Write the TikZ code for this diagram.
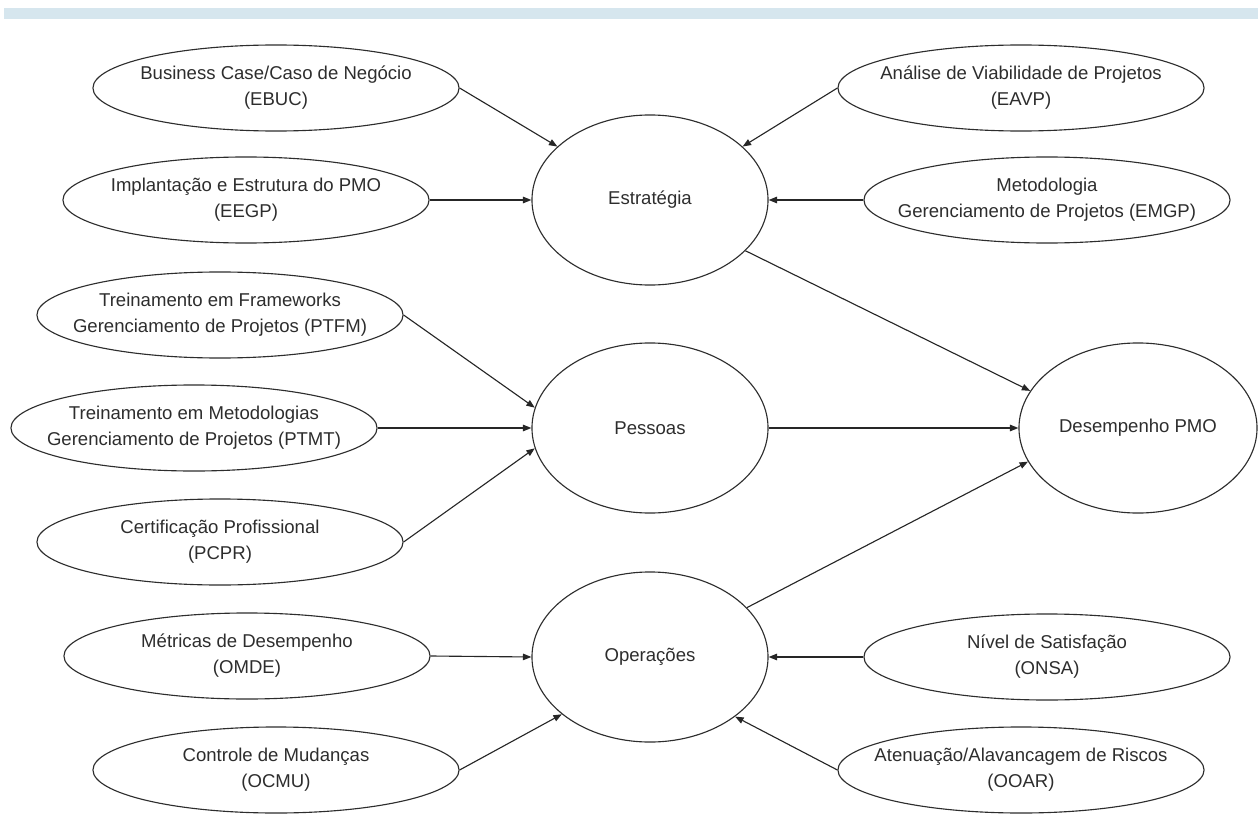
\documentclass[tikz,border=0pt]{standalone}
\usepackage{fontspec}
\setmainfont{Liberation Sans}
\usetikzlibrary{shapes.geometric,arrows.meta,positioning}
\definecolor{bandblue}{RGB}{214,230,238}
\definecolor{inkgrey}{RGB}{45,45,45}

\begin{document}
\begin{tikzpicture}[
    x=0.025cm, y=-0.025cm,
    oval/.style={ellipse, draw=inkgrey, line width=0.8pt, inner sep=0pt,
                 minimum width=9.15cm, minimum height=2.15cm},
    hub/.style={ellipse, draw=inkgrey, line width=0.8pt, inner sep=0pt,
                minimum width=5.9cm, minimum height=4.25cm,
                font=\fontsize{13.2}{16}\selectfont, text=inkgrey},
    txt/.style={align=center, inner sep=0pt, text=inkgrey,
                font=\fontsize{13.2}{18.5}\selectfont},
    arrow/.style={-{Triangle[length=6pt,width=4.6pt]}, line width=0.8pt, black!85}
]
\useasboundingbox (0,0) rectangle (1258,821);
\fill[bandblue] (4,8) rectangle (1258,19);

% central constructs
\node[hub] (estr) at (650,200) {Estratégia};
\node[hub] (pess) at (650,428) {Pessoas};
\node[hub] (oper) at (650,657) {Operações};
\node[hub, minimum width=5.95cm] (desemp) at (1138,428) {Desempenho PMO};

% Estrategia indicators
\node[oval] (ebuc) at (276,88) {};
\node[txt] (ebuc-t) at (ebuc) {Business Case/Caso de Negócio\\(EBUC)};
\node[oval] (eegp) at (246,200) {};
\node[txt] (eegp-t) at (eegp) {Implantação e Estrutura do PMO\\(EEGP)};
\node[oval] (eavp) at (1021,88) {};
\node[txt] (eavp-t) at (eavp) {Análise de Viabilidade de Projetos\\(EAVP)};
\node[oval] (emgp) at (1047,200) {};
\node[txt] (emgp-t) at (emgp) {Metodologia\\Gerenciamento de Projetos (EMGP)};

% Pessoas indicators
\node[oval] (ptfm) at (220,315) {};
\node[txt] (ptfm-t) at (ptfm) {Treinamento em Frameworks\\Gerenciamento de Projetos (PTFM)};
\node[oval] (ptmt) at (194,428) {};
\node[txt] (ptmt-t) at (ptmt) {Treinamento em Metodologias\\Gerenciamento de Projetos (PTMT)};
\node[oval] (pcpr) at (220,542) {};
\node[txt] (pcpr-t) at (pcpr) {Certificação Profissional\\(PCPR)};

% Operacoes indicators
\node[oval] (omde) at (247,656) {};
\node[txt] (omde-t) at (omde) {Métricas de Desempenho\\(OMDE)};
\node[oval] (ocmu) at (276,770) {};
\node[txt] (ocmu-t) at (ocmu) {Controle de Mudanças\\(OCMU)};
\node[oval] (onsa) at (1047,657) {};
\node[txt] (onsa-t) at (onsa) {Nível de Satisfação\\(ONSA)};
\node[oval] (ooar) at (1021,770) {};
\node[txt] (ooar-t) at (ooar) {Atenuação/Alavancagem de Riscos\\(OOAR)};

\draw[arrow] (ebuc.east) -- (estr.150);
\draw[arrow] (eegp.east) -- (estr.west);
\draw[arrow] (eavp.west) -- (estr.30);
\draw[arrow] (emgp.west) -- (estr.east);

\draw[arrow] (ptfm.east) -- (pess.170);
\draw[arrow] (ptmt.east) -- (pess.west);
\draw[arrow] (pcpr.east) -- (pess.190);

\draw[arrow] (omde.east) -- (oper.west);
\draw[arrow] (ocmu.east) -- (oper.213);
\draw[arrow] (onsa.west) -- (oper.east);
\draw[arrow] (ooar.west) -- (oper.-35);

\draw[arrow] (estr.-28) -- (desemp.161);
\draw[arrow] (pess) -- (desemp);
\draw[arrow] (oper.27) -- (desemp.197);
\end{tikzpicture}
\end{document}
